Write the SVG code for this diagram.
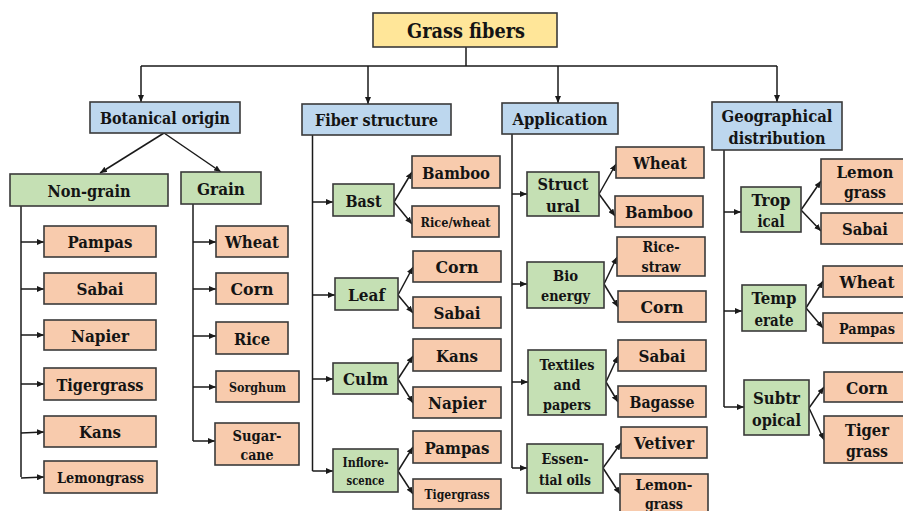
<svg xmlns="http://www.w3.org/2000/svg" width="903" height="511" viewBox="0 0 903 511">
  <defs>
    <marker id="arr" viewBox="0 0 7 6" refX="7" refY="3" markerWidth="7" markerHeight="6" markerUnits="userSpaceOnUse" orient="auto">
      <path d="M0,0 L7,3 L0,6 z" fill="#1a1a1a"/>
    </marker>
    <style>
      rect { stroke: #3a3a3a; stroke-width: 1.6; }
      .root { fill: #FFE699; }
      .cat { fill: #BDD7EE; }
      .sub { fill: #C5E0B4; }
      .leaf { fill: #F8CBAD; }
      text { font-family: "DejaVu Serif Condensed", "DejaVu Serif", serif; font-weight: bold; fill: #141414; text-anchor: middle; font-size: 17.3px; }
      .s14 { font-size: 13.2px; }
      .s15 { font-size: 13.7px; }
      .s16 { font-size: 15px; }
      .s17 { font-size: 15.5px; }
      .s18 { font-size: 16.4px; }
      .wires path { fill: none; stroke: #1a1a1a; stroke-width: 1.5; }
      .wires .a { marker-end: url(#arr); }
    </style>
  </defs>
  <rect width="903" height="511" fill="#ffffff" style="stroke:none"/>

  <!-- connectors -->
  <g class="wires">
    <path d="M466,47 V66 M141,66 H777"/>
    <path class="a" d="M141,66 V102"/>
    <path class="a" d="M368,66 V104"/>
    <path class="a" d="M558,66 V103"/>
    <path class="a" d="M777,66 V102"/>

    <path class="a" d="M164,133 L100,173"/>
    <path class="a" d="M164,133 L221,172"/>

    <!-- non-grain -->
    <path d="M21,206 V477"/>
    <path class="a" d="M21,242 H44"/>
    <path class="a" d="M21,289 H44"/>
    <path class="a" d="M21,335 H44"/>
    <path class="a" d="M21,384 H44"/>
    <path class="a" d="M21,433 L44,432"/>
    <path class="a" d="M21,478 L44,477"/>

    <!-- grain -->
    <path d="M193,204 V441"/>
    <path class="a" d="M193,242 H216"/>
    <path class="a" d="M193,289 H216"/>
    <path class="a" d="M193,336 H216"/>
    <path class="a" d="M193,387 H216"/>
    <path class="a" d="M193,441 H215"/>

    <!-- fiber structure -->
    <path d="M312.5,135 V471"/>
    <path class="a" d="M312.5,202 H333"/>
    <path class="a" d="M312.5,295 H335"/>
    <path class="a" d="M312.5,379 H333"/>
    <path class="a" d="M312.5,471 H333"/>
    <path class="a" d="M394,202 L412,172"/>
    <path class="a" d="M394,202 L412,224"/>
    <path class="a" d="M398,295 L413,267"/>
    <path class="a" d="M398,295 L413,313"/>
    <path class="a" d="M398,379 L413,356"/>
    <path class="a" d="M398,379 L413,403"/>
    <path class="a" d="M398,471 L413,447"/>
    <path class="a" d="M398,471 L413,494"/>

    <!-- application -->
    <path d="M512,134 V468"/>
    <path class="a" d="M512,194 H527"/>
    <path class="a" d="M512,284 H527"/>
    <path class="a" d="M512,382 H528"/>
    <path class="a" d="M512,468 H527"/>
    <path class="a" d="M599,194 L616,164"/>
    <path class="a" d="M599,194 L615,216"/>
    <path class="a" d="M604,284 L617,257"/>
    <path class="a" d="M604,284 L618,307"/>
    <path class="a" d="M606,382 L618,356"/>
    <path class="a" d="M606,382 L618,402"/>
    <path class="a" d="M603,468 L621,443"/>
    <path class="a" d="M603,468 L620,494"/>

    <!-- geographical distribution -->
    <path d="M724,150 V407"/>
    <path class="a" d="M724,212 H741"/>
    <path class="a" d="M724,311 H742"/>
    <path class="a" d="M724,407 H744"/>
    <path class="a" d="M801,210 L821,181"/>
    <path class="a" d="M801,210 L821,231"/>
    <path class="a" d="M806,308 L823,281"/>
    <path class="a" d="M806,308 L823,328"/>
    <path class="a" d="M809,408 L824,387"/>
    <path class="a" d="M809,408 L824,440"/>
  </g>

  <!-- root -->
  <g id="grass-fibers">
    <rect class="root" x="373" y="13" width="184" height="34"/>
    <text x="466" y="38" style="font-size:20.5px" textLength="118" lengthAdjust="spacingAndGlyphs">Grass fibers</text>
  </g>

  <!-- categories -->
  <g id="botanical-origin">
    <rect class="cat" x="90" y="102" width="150" height="31"/>
    <text x="165" y="124" textLength="130" lengthAdjust="spacingAndGlyphs">Botanical origin</text>
  </g>
  <g id="fiber-structure">
    <rect class="cat" x="302" y="104" width="149" height="31"/>
    <text x="376.5" y="126" textLength="123" lengthAdjust="spacingAndGlyphs">Fiber structure</text>
  </g>
  <g id="application">
    <rect class="cat" x="502" y="103" width="116" height="31"/>
    <text x="560" y="125" textLength="95" lengthAdjust="spacingAndGlyphs">Application</text>
  </g>
  <g id="geographical-distribution">
    <rect class="cat" x="712" y="102" width="130" height="48"/>
    <text x="777" y="122" textLength="111" lengthAdjust="spacingAndGlyphs">Geographical</text>
    <text x="777" y="144" textLength="97" lengthAdjust="spacingAndGlyphs">distribution</text>
  </g>

  <!-- botanical origin -->
  <g id="non-grain">
    <rect class="sub" x="10" y="174" width="158" height="32"/>
    <text x="89" y="196.5" textLength="83" lengthAdjust="spacingAndGlyphs">Non-grain</text>
  </g>
  <g id="grain">
    <rect class="sub" x="181" y="172" width="80" height="32"/>
    <text x="221" y="194.5" textLength="48" lengthAdjust="spacingAndGlyphs">Grain</text>
  </g>
  <g id="ng-pampas"><rect class="leaf" x="44" y="226" width="112" height="31"/><text x="100" y="248" textLength="65" lengthAdjust="spacingAndGlyphs">Pampas</text></g>
  <g id="ng-sabai"><rect class="leaf" x="44" y="273" width="112" height="31"/><text x="100" y="295" textLength="47" lengthAdjust="spacingAndGlyphs">Sabai</text></g>
  <g id="ng-napier"><rect class="leaf" x="44" y="320" width="112" height="30"/><text x="100" y="341.5" textLength="58" lengthAdjust="spacingAndGlyphs">Napier</text></g>
  <g id="ng-tigergrass"><rect class="leaf" x="44" y="368" width="112" height="32"/><text x="100" y="390.5" textLength="87" lengthAdjust="spacingAndGlyphs">Tigergrass</text></g>
  <g id="ng-kans"><rect class="leaf" x="44" y="416" width="112" height="31"/><text x="100" y="438" textLength="42" lengthAdjust="spacingAndGlyphs">Kans</text></g>
  <g id="ng-lemongrass"><rect class="leaf" x="44" y="461" width="113" height="32"/><text x="100.5" y="482.5" class="s16" textLength="87" lengthAdjust="spacingAndGlyphs">Lemongrass</text></g>

  <g id="g-wheat"><rect class="leaf" x="216" y="226" width="72" height="31"/><text x="252" y="248" textLength="54" lengthAdjust="spacingAndGlyphs">Wheat</text></g>
  <g id="g-corn"><rect class="leaf" x="216" y="273" width="72" height="31"/><text x="252" y="295" textLength="43" lengthAdjust="spacingAndGlyphs">Corn</text></g>
  <g id="g-rice"><rect class="leaf" x="216" y="322" width="72" height="32"/><text x="252" y="344.5" textLength="36" lengthAdjust="spacingAndGlyphs">Rice</text></g>
  <g id="g-sorghum"><rect class="leaf" x="216" y="371" width="83" height="31"/><text x="257.5" y="391.5" class="s14" textLength="57" lengthAdjust="spacingAndGlyphs">Sorghum</text></g>
  <g id="g-sugarcane"><rect class="leaf" x="215" y="423" width="84" height="42"/><text x="257" y="441" class="s17" textLength="49" lengthAdjust="spacingAndGlyphs">Sugar-</text><text x="257" y="460" class="s17" textLength="33" lengthAdjust="spacingAndGlyphs">cane</text></g>

  <!-- fiber structure -->
  <g id="bast"><rect class="sub" x="333" y="184" width="61" height="32"/><text x="363.5" y="206.5" textLength="36" lengthAdjust="spacingAndGlyphs">Bast</text></g>
  <g id="leaf-type"><rect class="sub" x="335" y="278" width="63" height="32"/><text x="366.5" y="300.5" textLength="37" lengthAdjust="spacingAndGlyphs">Leaf</text></g>
  <g id="culm"><rect class="sub" x="333" y="363" width="65" height="31"/><text x="365.5" y="385" textLength="45" lengthAdjust="spacingAndGlyphs">Culm</text></g>
  <g id="inflorescence"><rect class="sub" x="333" y="449" width="65" height="43"/><text x="365.5" y="467" class="s14" textLength="46" lengthAdjust="spacingAndGlyphs">Inflore-</text><text x="365.5" y="485" class="s14" textLength="38" lengthAdjust="spacingAndGlyphs">scence</text></g>

  <g id="fs-bamboo"><rect class="leaf" x="412" y="156" width="88" height="32"/><text x="456" y="178.5" textLength="68" lengthAdjust="spacingAndGlyphs">Bamboo</text></g>
  <g id="fs-ricewheat"><rect class="leaf" x="412" y="206" width="87" height="31"/><text x="455.5" y="226.5" class="s15" textLength="70" lengthAdjust="spacingAndGlyphs">Rice/wheat</text></g>
  <g id="fs-corn"><rect class="leaf" x="413" y="251" width="88" height="31"/><text x="457" y="273" textLength="43" lengthAdjust="spacingAndGlyphs">Corn</text></g>
  <g id="fs-sabai"><rect class="leaf" x="413" y="297" width="88" height="31"/><text x="457" y="319" textLength="47" lengthAdjust="spacingAndGlyphs">Sabai</text></g>
  <g id="fs-kans"><rect class="leaf" x="413" y="339" width="88" height="32"/><text x="457" y="361.5" textLength="42" lengthAdjust="spacingAndGlyphs">Kans</text></g>
  <g id="fs-napier"><rect class="leaf" x="413" y="387" width="88" height="31"/><text x="457" y="409" textLength="58" lengthAdjust="spacingAndGlyphs">Napier</text></g>
  <g id="fs-pampas"><rect class="leaf" x="413" y="431" width="88" height="32"/><text x="457" y="453.5" textLength="65" lengthAdjust="spacingAndGlyphs">Pampas</text></g>
  <g id="fs-tigergrass"><rect class="leaf" x="413" y="479" width="88" height="30"/><text x="457" y="499" class="s14" textLength="65" lengthAdjust="spacingAndGlyphs">Tigergrass</text></g>

  <!-- application -->
  <g id="structural"><rect class="sub" x="527" y="172" width="72" height="44"/><text x="563" y="190" textLength="51" lengthAdjust="spacingAndGlyphs">Struct</text><text x="563" y="212" textLength="34" lengthAdjust="spacingAndGlyphs">ural</text></g>
  <g id="bioenergy"><rect class="sub" x="527" y="262" width="77" height="46"/><text x="565.5" y="281" class="s17" textLength="25" lengthAdjust="spacingAndGlyphs">Bio</text><text x="565.5" y="301" class="s17" textLength="49" lengthAdjust="spacingAndGlyphs">energy</text></g>
  <g id="textiles"><rect class="sub" x="528" y="350" width="78" height="65"/><text x="567" y="370" class="s16" textLength="55" lengthAdjust="spacingAndGlyphs">Textiles</text><text x="567" y="390" class="s16" textLength="27" lengthAdjust="spacingAndGlyphs">and</text><text x="567" y="410" class="s16" textLength="48" lengthAdjust="spacingAndGlyphs">papers</text></g>
  <g id="essential-oils"><rect class="sub" x="527" y="444" width="76" height="49"/><text x="565" y="464" class="s17" textLength="47" lengthAdjust="spacingAndGlyphs">Essen-</text><text x="565" y="485" class="s17" textLength="52" lengthAdjust="spacingAndGlyphs">tial oils</text></g>

  <g id="ap-wheat"><rect class="leaf" x="616" y="147" width="88" height="31"/><text x="660" y="169" textLength="54" lengthAdjust="spacingAndGlyphs">Wheat</text></g>
  <g id="ap-bamboo"><rect class="leaf" x="615" y="196" width="88" height="31"/><text x="659" y="218" textLength="68" lengthAdjust="spacingAndGlyphs">Bamboo</text></g>
  <g id="ap-ricestraw"><rect class="leaf" x="617" y="237" width="88" height="39"/><text x="661" y="252" class="s16" textLength="37" lengthAdjust="spacingAndGlyphs">Rice-</text><text x="661" y="272" class="s16" textLength="39" lengthAdjust="spacingAndGlyphs">straw</text></g>
  <g id="ap-corn"><rect class="leaf" x="618" y="291" width="88" height="31"/><text x="662" y="313" textLength="43" lengthAdjust="spacingAndGlyphs">Corn</text></g>
  <g id="ap-sabai"><rect class="leaf" x="618" y="340" width="88" height="31"/><text x="662" y="362" textLength="47" lengthAdjust="spacingAndGlyphs">Sabai</text></g>
  <g id="ap-bagasse"><rect class="leaf" x="618" y="386" width="88" height="31"/><text x="662" y="408" textLength="65" lengthAdjust="spacingAndGlyphs">Bagasse</text></g>
  <g id="ap-vetiver"><rect class="leaf" x="621" y="427" width="86" height="31"/><text x="664" y="449" textLength="60" lengthAdjust="spacingAndGlyphs">Vetiver</text></g>
  <g id="ap-lemongrass"><rect class="leaf" x="620" y="474" width="88" height="42"/><text x="664" y="490" class="s17" textLength="57" lengthAdjust="spacingAndGlyphs">Lemon-</text><text x="664" y="509" class="s17" textLength="38" lengthAdjust="spacingAndGlyphs">grass</text></g>

  <!-- geographical distribution -->
  <g id="tropical"><rect class="sub" x="741" y="187" width="60" height="45"/><text x="771" y="206" class="s18" textLength="39" lengthAdjust="spacingAndGlyphs">Trop</text><text x="771" y="227" class="s18" textLength="27" lengthAdjust="spacingAndGlyphs">ical</text></g>
  <g id="temperate"><rect class="sub" x="742" y="285" width="64" height="46"/><text x="774" y="304" class="s18" textLength="45" lengthAdjust="spacingAndGlyphs">Temp</text><text x="774" y="326" class="s18" textLength="39" lengthAdjust="spacingAndGlyphs">erate</text></g>
  <g id="subtropical"><rect class="sub" x="744" y="380" width="65" height="55"/><text x="776.5" y="404" textLength="47" lengthAdjust="spacingAndGlyphs">Subtr</text><text x="776.5" y="426" textLength="49" lengthAdjust="spacingAndGlyphs">opical</text></g>

  <g id="gd-lemongrass"><rect class="leaf" x="821" y="159" width="90" height="45"/><text x="865" y="178" textLength="57" lengthAdjust="spacingAndGlyphs">Lemon</text><text x="865" y="198" textLength="42" lengthAdjust="spacingAndGlyphs">grass</text></g>
  <g id="gd-sabai"><rect class="leaf" x="821" y="213" width="90" height="31"/><text x="865" y="235" textLength="46" lengthAdjust="spacingAndGlyphs">Sabai</text></g>
  <g id="gd-wheat"><rect class="leaf" x="823" y="266" width="88" height="31"/><text x="867" y="288" textLength="55" lengthAdjust="spacingAndGlyphs">Wheat</text></g>
  <g id="gd-pampas"><rect class="leaf" x="823" y="313" width="88" height="30"/><text x="867" y="334" class="s16" textLength="56" lengthAdjust="spacingAndGlyphs">Pampas</text></g>
  <g id="gd-corn"><rect class="leaf" x="824" y="372" width="87" height="30"/><text x="867" y="393.5" textLength="42" lengthAdjust="spacingAndGlyphs">Corn</text></g>
  <g id="gd-tigergrass"><rect class="leaf" x="824" y="416" width="87" height="47"/><text x="867" y="436" textLength="44" lengthAdjust="spacingAndGlyphs">Tiger</text><text x="867" y="457" textLength="42" lengthAdjust="spacingAndGlyphs">grass</text></g>
</svg>
